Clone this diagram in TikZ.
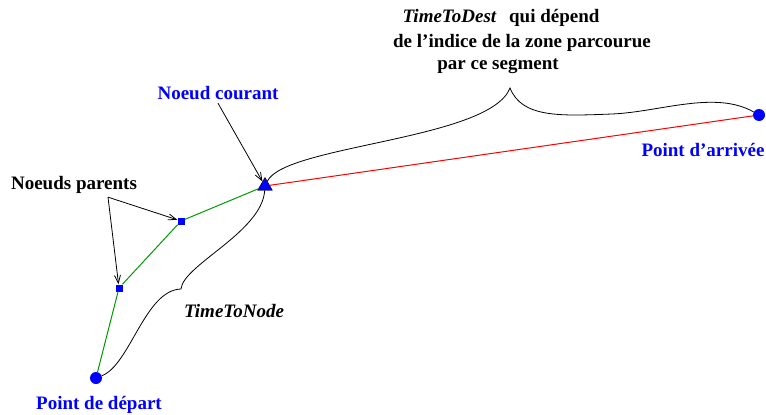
\documentclass[tikz,border=0pt]{standalone}
\usepackage{fontspec}
\setmainfont{Liberation Serif}
\usetikzlibrary{shapes, arrows.meta}

\begin{document}
\begin{tikzpicture}[x=1pt, y=-1pt,
  every node/.style={font=\fontsize{19}{22}\selectfont\bfseries},
  endpoint/.style={circle, fill=blue, inner sep=0pt, minimum size=12pt},
  parent/.style={rectangle, fill=blue, inner sep=0pt, minimum size=7pt},
  current/.style={regular polygon, regular polygon sides=3, draw=black, fill=blue, inner sep=0pt, minimum size=17pt},
  bluetext/.style={text=blue},
  pointer/.style={-{Straight Barb[length=8pt,width=6pt]}, line width=0.8pt},
  brace/.style={line width=0.8pt}]
\useasboundingbox (0,0) rectangle (766,415);

\node [endpoint] (dep) at (96,378) {};
\node [endpoint] (arr) at (759,115) {};
\node [parent] (p1) at (119,288) {};
\node [parent] (p2) at (181,221) {};
\node [current] (cur) at (265,186) {};

\draw [green!60!black, line width=1pt] (dep) -- (p1) -- (p2) -- (cur);
\draw [red, line width=1pt] (cur) -- (arr);

\node [bluetext] (depl) at (99,405) {Point de départ};
\node [bluetext] (arrl) at (703,150) {Point d'arrivée};
\node [bluetext] (curl) at (218,93) {Noeud courant};
\node (parl) at (74,185) {Noeuds parents};
\node (ttn) at (234,311) {\itshape TimeToNode};
\node (dest1) at (501,18) {\itshape TimeToDest\upshape\hspace{13pt}qui dépend};
\node (dest2) at (522,43) {de l'indice de la zone parcourue};
\node (dest3) at (498,66) {par ce segment};

\draw [pointer] ([xshift=34pt]parl.south) -- (p2);
\draw [pointer] ([xshift=34pt]parl.south) -- (p1);
\draw [pointer] (curl.south) -- (cur);

\coordinate (tn) at (181,289);
\coordinate (td) at (510,88);
\draw [brace] (dep) .. controls (130,365) and (145,290) .. (tn)
  .. controls (183,265) and (262,232) .. (cur);
\draw [brace] (cur) .. controls (285,145) and (490,140) .. (td)
  .. controls (522,118) and (560,116) .. (612,114)
  .. controls (660,112) and (715,90) .. (arr);
\end{tikzpicture}
\end{document}
